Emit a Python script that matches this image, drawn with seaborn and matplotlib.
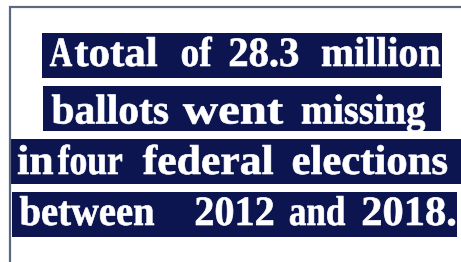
import matplotlib
matplotlib.use("Agg")
import matplotlib.pyplot as plt
import seaborn as sns
from matplotlib.patches import Rectangle
from matplotlib.patheffects import AbstractPathEffect
from matplotlib.textpath import TextPath
from matplotlib.font_manager import FontProperties
from matplotlib.transforms import Affine2D

sns.set_theme(style="white")
plt.rcParams['font.family'] = ['Liberation Serif', 'DejaVu Serif']

# caption lines, one highlighted box each
lines = ["A total of 28.3 million",
         "ballots went missing",
         "in four federal elections",
         "between 2012 and 2018."]

# layout (pixels): box extents, baseline, ink extent of each word
box_left = [42, 43, 11, 12]
box_right = [442, 441, 461, 457]
box_top = [33, 86, 139, 192]
box_bottom = [78, 131, 184, 237]
baselines = [66, 123.5, 174, 225]
word_left = [[50, 75, 182, 230, 322],
             [52, 183, 302],
             [18, 58, 143, 293],
             [20, 196, 290, 363]]
word_right = [[72, 157, 212, 298, 440],
              [168, 283, 425],
              [53, 122, 273, 447],
              [154, 273, 345, 455]]

navy = "#0d1551"
frame = "#5b6a80"
fs = 30  # points
fs_px = fs * 100 / 72
fp = FontProperties(family="Liberation Serif", weight="bold")


class Stretch(AbstractPathEffect):
    """Stretch glyphs horizontally around the text anchor, slightly emboldened."""
    def __init__(self, sx, x_anchor):
        super().__init__()
        self.sx = sx
        self.x_anchor = x_anchor

    def draw_path(self, renderer, gc, tpath, affine, rgbFace=None):
        x0 = ax.transData.transform((self.x_anchor, 0))[0]
        st = Affine2D().translate(-x0, 0).scale(self.sx, 1).translate(x0, 0)
        gc0 = renderer.new_gc()
        gc0.copy_properties(gc)
        gc0.set_linewidth(0.5)
        gc0.set_foreground(rgbFace)
        renderer.draw_path(gc0, tpath, affine + st, rgbFace)
        gc0.restore()


fig = plt.figure(figsize=(4.61, 2.62), dpi=100)
ax = fig.add_axes([0, 0, 1, 1])
ax.set_xlim(0, 461)
ax.set_ylim(262, 0)
ax.axis("off")

# frame: top and left edge
ax.plot([9, 461], [6.5, 6.5], color=frame, lw=1.6, solid_capstyle="butt")
ax.plot([9.5, 9.5], [6, 262], color=frame, lw=1.6, solid_capstyle="butt")

for i, txt in enumerate(lines):
    l, r, t, b = box_left[i], box_right[i], box_top[i], box_bottom[i]
    ax.add_patch(Rectangle((l, t), r - l, b - t, facecolor=navy, edgecolor="none"))
    for word, x0, x1 in zip(txt.split(), word_left[i], word_right[i]):
        ext = TextPath((0, 0), word, size=fs_px, prop=fp).get_extents()
        sx = (x1 - x0) / ext.width
        xa = x0 - ext.x0 * sx
        ax.text(xa, baselines[i], word, color="white", fontsize=fs,
                fontweight="bold", ha="left", va="baseline",
                path_effects=[Stretch(sx, xa)])

fig.savefig("out.png", dpi=100)
